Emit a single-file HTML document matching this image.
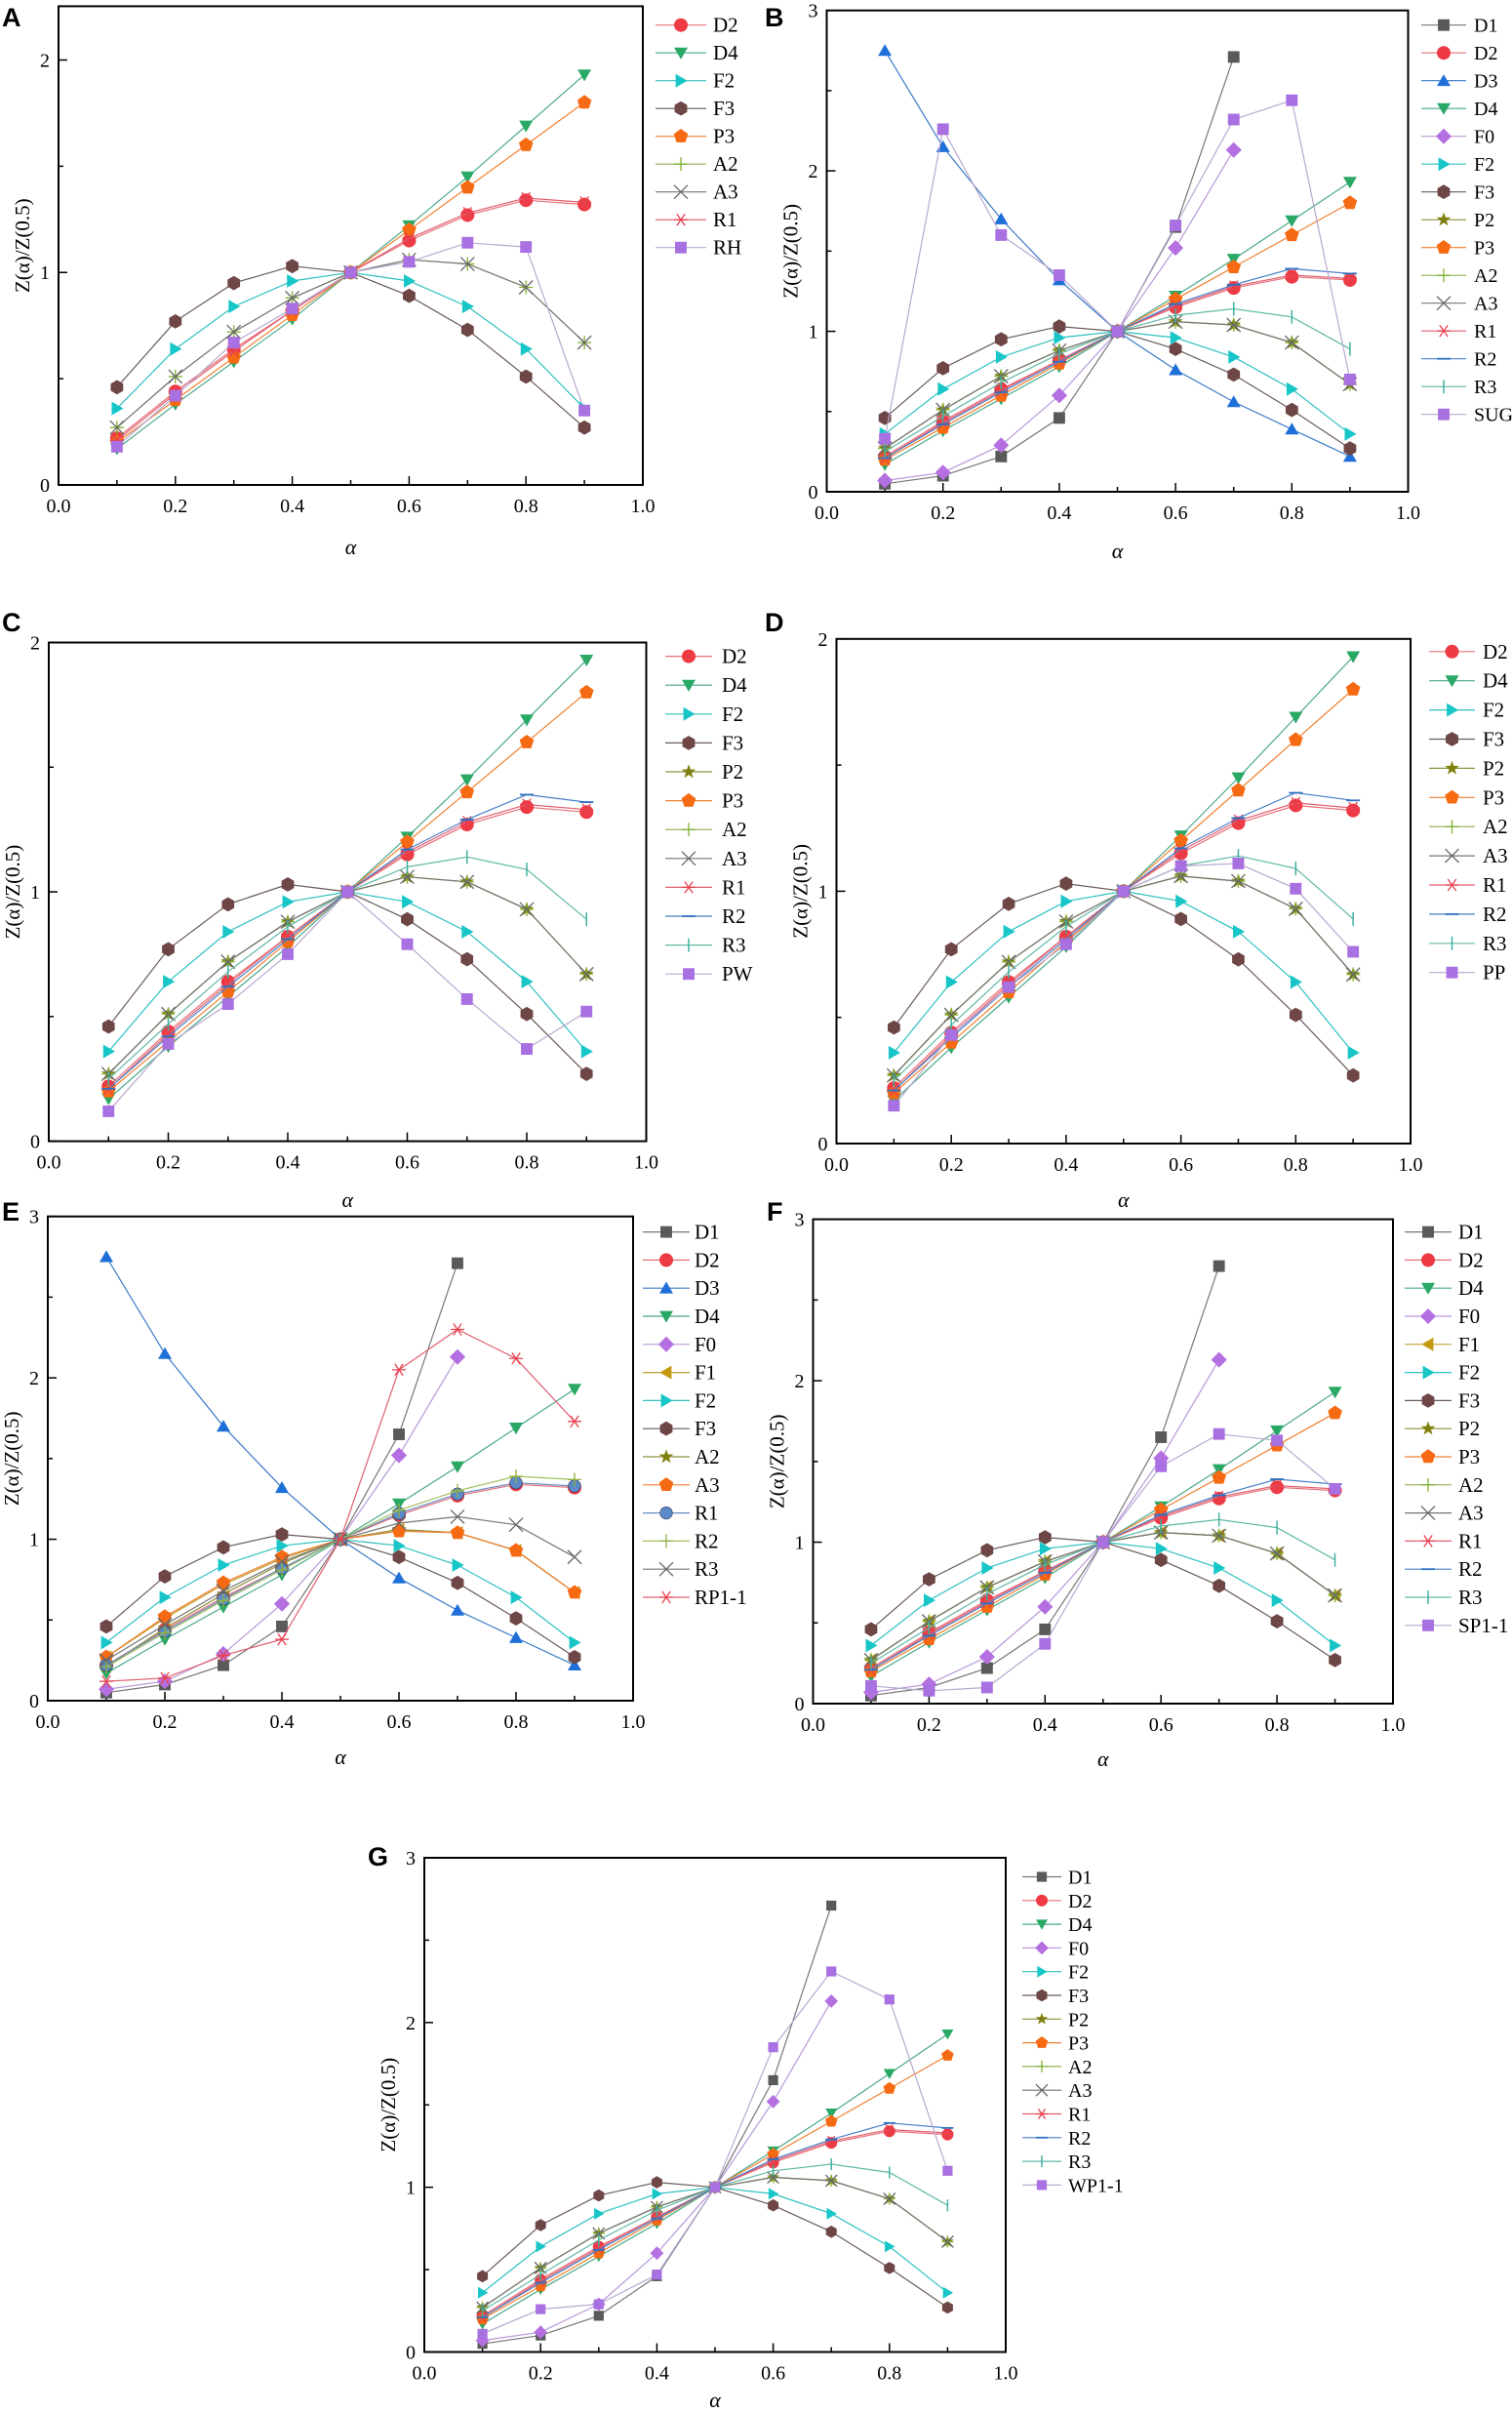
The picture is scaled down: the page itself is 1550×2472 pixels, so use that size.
<!DOCTYPE html>
<html><head><meta charset="utf-8">
<style>
html,body{margin:0;padding:0;background:#fff;}
svg{display:block;font-family:"Liberation Serif",serif;}
</style></head>
<body>
<svg id="fig" xmlns="http://www.w3.org/2000/svg" width="1550" height="2472" viewBox="0 0 1550 2472"></svg>
<script>
// ---- data (x values and series values) ----
const alphas = [0.1,0.2,0.3,0.4,0.5,0.6,0.7,0.8,0.9];
const xTickLabels = ["0.0","0.2","0.4","0.6","0.8","1.0"];
const D1 = [0.05,0.10,0.22,0.46,1,1.65,2.71,null,null];
const D2 = [0.22,0.44,0.64,0.82,1,1.15,1.27,1.34,1.32];
const D3 = [2.75,2.15,1.70,1.32,1,0.76,0.56,0.39,0.22];
const D4 = [0.17,0.38,0.58,0.78,1,1.22,1.45,1.69,1.93];
const F0 = [0.07,0.12,0.29,0.60,1,1.52,2.13,null,null];
const F1 = [0.27,0.51,0.72,0.88,1,1.06,1.04,0.93,0.67];
const F2 = [0.36,0.64,0.84,0.96,1,0.96,0.84,0.64,0.36];
const F3 = [0.46,0.77,0.95,1.03,1,0.89,0.73,0.51,0.27];
const P2 = [0.27,0.51,0.72,0.88,1,1.06,1.04,0.93,0.67];
const P3 = [0.20,0.40,0.60,0.80,1,1.20,1.40,1.60,1.80];
const A2 = [0.27,0.51,0.72,0.88,1,1.06,1.04,0.93,0.67];
const A3 = [0.27,0.51,0.72,0.88,1,1.06,1.04,0.93,0.67];
const R1 = [0.21,0.43,0.63,0.82,1,1.16,1.28,1.35,1.33];
const R2 = [0.21,0.42,0.62,0.81,1,1.17,1.29,1.39,1.36];
const R3 = [0.25,0.47,0.68,0.86,1,1.10,1.14,1.09,0.89];
const E_A2 = [0.21,0.45,0.66,0.85,1,1.06,1.04,0.93,0.67];
const E_A3 = [0.27,0.52,0.73,0.89,1,1.05,1.04,0.93,0.67];
const E_R1 = [0.22,0.43,0.63,0.82,1,1.16,1.28,1.35,1.33];
const E_R2 = [0.21,0.42,0.62,0.81,1,1.18,1.30,1.39,1.37];
const E_R3 = [0.25,0.47,0.68,0.86,1,1.10,1.14,1.09,0.89];
const RH = [0.18,0.42,0.67,0.83,1,1.05,1.14,1.12,0.35];
const SUG = [0.33,2.26,1.60,1.35,1,1.66,2.32,2.44,0.70];
const PW = [0.12,0.39,0.55,0.75,1,0.79,0.57,0.37,0.52];
const PP = [0.15,0.43,0.62,0.79,1,1.10,1.11,1.01,0.76];
const RP11 = [0.12,0.14,0.28,0.38,1,2.05,2.30,2.12,1.73];
const SP11 = [0.11,0.08,0.10,0.37,1,1.47,1.67,1.63,1.33];
const WP11 = [0.11,0.26,0.29,0.47,1,1.85,2.31,2.14,1.10];

// ---- styles ----
const C = {
  D1:["square","#5a5a5a","#777"], D2:["circle","#ee3a43","#e8707a"], D3:["triUp","#1f6fd8","#3a7ac8"],
  D4:["triDown","#2aa866","#4aa88a"], F0:["diamond","#b46fe0","#b898d8"], F1:["triLeft","#c49a10","#c4a030"],
  F2:["triRight","#18c6c8","#30c0c0"], F3:["hex","#6e4646","#6a5a5a"], P2:["star","#808010","#909040"],
  P3:["pent","#f56a12","#f08030"], A2:["plus","#80b030","#90b050"], A3:["x","#666","#777"],
  R1:["aster","#e84050","#e06070"], R2:["hdash","#3070c0","#4a80c8"], R3:["vbar","#40b0a0","#60b8a8"],
  EXT:["square","#a870e0","#b8a8d0"], ball:["ball","#5a8ac8","#6a8ac0"], starOl:["star","#808010","#909040"],
  pentOr:["pent","#f56a12","#f08030"], plusG:["plus","#90b040","#a0c060"], xG:["x","#666","#777"], asterR:["aster","#e84050","#e06070"]
};

const panels = [
 {id:"A",L:60,R:659,T:6.4,B:497,ymax:2.253,yt:[0,1,2],ym:[0.5,1.5],lg:[672,724,731,25.7,28.5],fs:21,letter:[2,27],alphaY:568,ms:7,
  s:[["D2",D2,"D2"],["D4",D4,"D4"],["F2",F2,"F2"],["F3",F3,"F3"],["P3",P3,"P3"],["A2",A2,"A2"],["A3",A3,"A3"],["R1",R1,"R1"],["RH",RH,"EXT"]]},
 {id:"B",L:847.5,R:1443.5,T:10.7,B:504,ymax:3,yt:[0,1,2,3],ym:[0.5,1.5,2.5],lg:[1457,1503,1511,25.7,28.5],fs:20,letter:[784,27],alphaY:572,ms:7,
  s:[["D1",D1,"D1"],["D2",D2,"D2"],["D3",D3,"D3"],["D4",D4,"D4"],["F0",F0,"F0"],["F2",F2,"F2"],["F3",F3,"F3"],["P2",P2,"P2"],["P3",P3,"P3"],["A2",A2,"A2"],["A3",A3,"A3"],["R1",R1,"R1"],["R2",R2,"R2"],["R3",R3,"R3"],["SUG",SUG,"EXT"]]},
 {id:"C",L:50,R:662.5,T:658.5,B:1169.6,ymax:2,yt:[0,1,2],ym:[0.5,1.5],lg:[682,730,740,672.6,29.6],fs:21,letter:[2,647],alphaY:1237,ms:7,
  s:[["D2",D2,"D2"],["D4",D4,"D4"],["F2",F2,"F2"],["F3",F3,"F3"],["P2",P2,"P2"],["P3",P3,"P3"],["A2",A2,"A2"],["A3",A3,"A3"],["R1",R1,"R1"],["R2",R2,"R2"],["R3",R3,"R3"],["PW",PW,"EXT"]]},
 {id:"D",L:857.5,R:1446,T:654.8,B:1172,ymax:2,yt:[0,1,2],ym:[0.5,1.5],lg:[1465,1512,1520,667.8,29.9],fs:21,letter:[784,647],alphaY:1237,ms:7,
  s:[["D2",D2,"D2"],["D4",D4,"D4"],["F2",F2,"F2"],["F3",F3,"F3"],["P2",P2,"P2"],["P3",P3,"P3"],["A2",A2,"A2"],["A3",A3,"A3"],["R1",R1,"R1"],["R2",R2,"R2"],["R3",R3,"R3"],["PP",PP,"EXT"]]},
 {id:"E",L:49,R:649,T:1246.7,B:1743,ymax:3,yt:[0,1,2,3],ym:[0.5,1.5,2.5],lg:[659,707,712,1262.6,28.8],fs:21,letter:[2,1251],alphaY:1808,ms:7,
  s:[["D1",D1,"D1"],["D2",D2,"D2"],["D3",D3,"D3"],["D4",D4,"D4"],["F0",F0,"F0"],["F1",F1,"F1"],["F2",F2,"F2"],["F3",F3,"F3"],["A2",E_A2,"starOl"],["A3",E_A3,"pentOr"],["R1",E_R1,"ball"],["R2",E_R2,"plusG"],["R3",E_R3,"xG"],["RP1-1",RP11,"asterR"]]},
 {id:"F",L:833.5,R:1428,T:1249.6,B:1746,ymax:3,yt:[0,1,2,3],ym:[0.5,1.5,2.5],lg:[1440,1488,1495,1262.6,28.8],fs:21,letter:[786,1251],alphaY:1810,ms:7,
  s:[["D1",D1,"D1"],["D2",D2,"D2"],["D4",D4,"D4"],["F0",F0,"F0"],["F1",F1,"F1"],["F2",F2,"F2"],["F3",F3,"F3"],["P2",P2,"P2"],["P3",P3,"P3"],["A2",A2,"A2"],["A3",A3,"A3"],["R1",R1,"R1"],["R2",R2,"R2"],["R3",R3,"R3"],["SP1-1",SP11,"EXT"]]},
 {id:"G",L:435,R:1031,T:1904,B:2410.5,ymax:3,yt:[0,1,2,3],ym:[0.5,1.5,2.5],lg:[1048,1088,1095,1923.5,24.3],fs:20,letter:[377,1912],alphaY:2467,ms:6,
  s:[["D1",D1,"D1"],["D2",D2,"D2"],["D4",D4,"D4"],["F0",F0,"F0"],["F2",F2,"F2"],["F3",F3,"F3"],["P2",P2,"P2"],["P3",P3,"P3"],["A2",A2,"A2"],["A3",A3,"A3"],["R1",R1,"R1"],["R2",R2,"R2"],["R3",R3,"R3"],["WP1-1",WP11,"EXT"]]}
];

const NS="http://www.w3.org/2000/svg";
const svg=document.getElementById("fig");
function el(tag,attrs,parent){const e=document.createElementNS(NS,tag);for(const k in attrs)e.setAttribute(k,attrs[k]);(parent||svg).appendChild(e);return e;}

function polyPts(cx,cy,r,n,rot){let p=[];for(let i=0;i<n;i++){const a=rot+i*2*Math.PI/n;p.push((cx+r*Math.cos(a)).toFixed(1)+","+(cy+r*Math.sin(a)).toFixed(1));}return p.join(" ");}
function marker(g,type,cx,cy,s,col){
  let m;
  switch(type){
    case "square": m=el("rect",{x:cx-s*0.85,y:cy-s*0.85,width:s*1.7,height:s*1.7,fill:col},g);break;
    case "circle": m=el("circle",{cx:cx,cy:cy,r:s,fill:col},g);break;
    case "ball": m=el("circle",{cx:cx,cy:cy,r:s*0.9,fill:col,stroke:"#335","stroke-width":0.6},g);break;
    case "triUp": m=el("polygon",{points:polyPts(cx,cy+s*0.2,s*1.15,3,-Math.PI/2),fill:col},g);break;
    case "triDown": m=el("polygon",{points:polyPts(cx,cy-s*0.2,s*1.15,3,Math.PI/2),fill:col},g);break;
    case "triLeft": m=el("polygon",{points:polyPts(cx+s*0.2,cy,s*1.15,3,Math.PI),fill:col},g);break;
    case "triRight": m=el("polygon",{points:polyPts(cx-s*0.2,cy,s*1.15,3,0),fill:col},g);break;
    case "diamond": m=el("polygon",{points:polyPts(cx,cy,s*1.15,4,-Math.PI/2),fill:col},g);break;
    case "hex": m=el("polygon",{points:polyPts(cx,cy,s*1.05,6,-Math.PI/2),fill:col},g);break;
    case "pent": m=el("polygon",{points:polyPts(cx,cy,s*1.1,5,-Math.PI/2),fill:col},g);break;
    case "star": {let p=[];for(let i=0;i<10;i++){const a=-Math.PI/2+i*Math.PI/5;const r=i%2?s*0.45:s*1.1;p.push((cx+r*Math.cos(a)).toFixed(1)+","+(cy+r*Math.sin(a)).toFixed(1));}m=el("polygon",{points:p.join(" "),fill:col},g);break;}
    case "plus": m=el("path",{d:`M${cx-s} ${cy}H${cx+s}M${cx} ${cy-s}V${cy+s}`,stroke:col,"stroke-width":1.3,fill:"none"},g);break;
    case "x": m=el("path",{d:`M${cx-s} ${cy-s}L${cx+s} ${cy+s}M${cx-s} ${cy+s}L${cx+s} ${cy-s}`,stroke:col,"stroke-width":1.3,fill:"none"},g);break;
    case "aster": m=el("path",{d:`M${cx-s} ${cy}H${cx+s}M${cx-s*0.6} ${cy-s*0.85}L${cx+s*0.6} ${cy+s*0.85}M${cx-s*0.6} ${cy+s*0.85}L${cx+s*0.6} ${cy-s*0.85}`,stroke:col,"stroke-width":1.3,fill:"none"},g);break;
    case "hdash": m=el("path",{d:`M${cx-s} ${cy}H${cx+s}`,stroke:col,"stroke-width":1.8,fill:"none"},g);break;
    case "vbar": m=el("path",{d:`M${cx} ${cy-s}V${cy+s}`,stroke:col,"stroke-width":1.5,fill:"none"},g);break;
  }
  return m;
}

panels.forEach(p=>{
  const g=el("g",{});
  
  
  const xs=v=>p.L+(p.R-p.L)*v;
  const ys=v=>p.B-(p.B-p.T)*v/p.ymax;
  const lt=el("text",{x:p.letter[0],y:p.letter[1],"font-family":"Liberation Sans,sans-serif","font-weight":"bold","font-size":27,fill:"#000"},g);
  lt.textContent=p.id;
  
  
  const ax=el("g",{stroke:"#000","stroke-width":1.5},g);
  
  
  for(let i=0;i<=10;i++){const x=xs(i/10);const len=i%2?5:9;el("line",{x1:x,x2:x,y1:p.B,y2:p.B-len},ax);}
  p.yt.forEach(v=>{el("line",{x1:p.L,x2:p.L+9,y1:ys(v),y2:ys(v)},ax);});
  p.ym.forEach(v=>{el("line",{x1:p.L,x2:p.L+5,y1:ys(v),y2:ys(v)},ax);});
  xTickLabels.forEach((t,i)=>{const tx=el("text",{x:xs(i*0.2),y:p.B+28,"text-anchor":"middle","font-size":20,fill:"#000"},g);tx.textContent=t;
    
    });
  p.yt.forEach(v=>{const ty=el("text",{x:p.L-9,y:ys(v)+7,"text-anchor":"end","font-size":20,fill:"#000"},g);ty.textContent=String(v);
    
    });
  const cy=(p.T+p.B)/2, cx=p.L-37;
  const yt=el("text",{x:cx,y:cy,"text-anchor":"middle","font-size":21,transform:`rotate(-90 ${cx} ${cy})`,fill:"#000",dy:7},g);
  yt.textContent="Z(α)/Z(0.5)";
  
  
  const xt=el("text",{x:(p.L+p.R)/2,y:p.alphaY,"text-anchor":"middle","font-size":22,"font-style":"italic",fill:"#000"},g);
  xt.textContent="α";
  
  
  p.s.forEach(([name,vals,key])=>{
    const [mt,mc,lc]=C[key];
    const sg=el("g",{},g);
    
    
    let d="";let first=true;
    vals.forEach((v,i)=>{if(v==null)return;d+=(first?"M":"L")+xs(alphas[i]).toFixed(1)+" "+ys(v).toFixed(1);first=false;});
    el("path",{d:d,fill:"none",stroke:lc,"stroke-width":1.2},sg);
    vals.forEach((v,i)=>{if(v==null)return;const m=marker(sg,mt,xs(alphas[i]),ys(v),p.ms,mc);
      
      });
  });
  const fr=el("rect",{x:p.L,y:p.T,width:p.R-p.L,height:p.B-p.T,fill:"none",stroke:"#000","stroke-width":2},g);
  
  
  const [lx0,lx1,tx0,ly0,dy]=p.lg;
  const lg=el("g",{},g);
  
  
  p.s.forEach(([name,vals,key],i)=>{
    const [mt,mc,lc]=C[key];
    const y=ly0+i*dy;
    const eg=el("g",{},lg);
    
    
    el("line",{x1:lx0,x2:lx1,y1:y,y2:y,stroke:lc,"stroke-width":1.2},eg);
    marker(eg,mt,(lx0+lx1)/2,y,p.ms,mc);
    const t=el("text",{x:tx0,y:y+7,"font-size":p.fs,fill:"#000"},eg);
    t.textContent=name;
  });
});
</script>
</body></html>
